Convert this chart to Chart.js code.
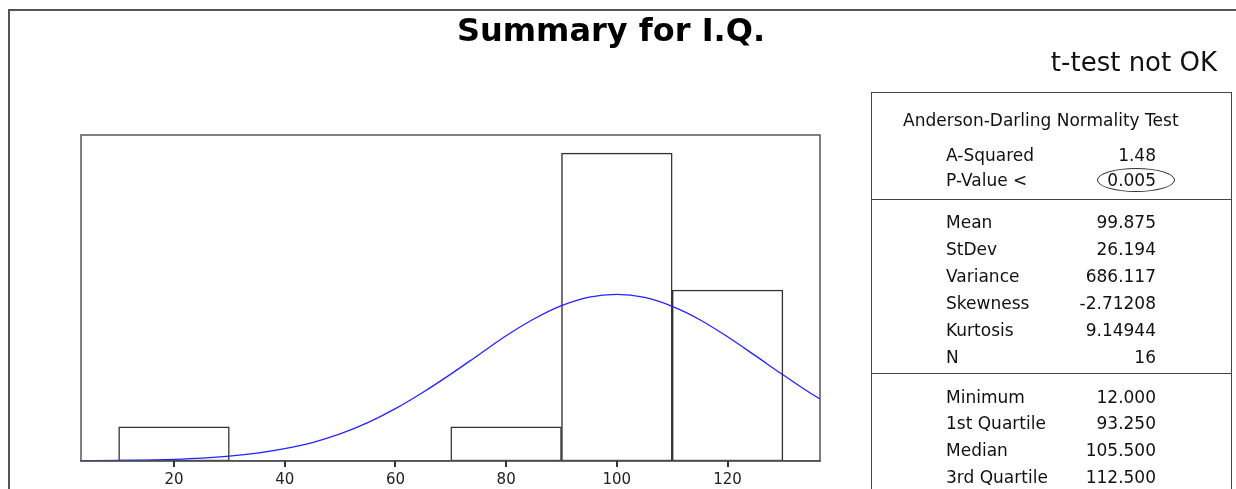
<!DOCTYPE html>
<html>
<head>
<meta charset="utf-8">
<script src="https://cdn.jsdelivr.net/npm/chart.js@4/dist/chart.umd.min.js"></script>
<style>
html,body{margin:0;padding:0;width:1236px;height:489px;overflow:hidden;background:#fff;}
body{position:relative;font-family:'DejaVu Sans',sans-serif;color:#111;}
#frame{position:absolute;left:8px;top:9px;width:1400px;height:700px;border:2px solid #555;box-sizing:border-box;}
#c{position:absolute;left:0;top:0;}
.t{position:absolute;white-space:nowrap;line-height:20px;height:20px;}
#title{position:absolute;left:0;width:1222px;text-align:center;top:10px;line-height:40px;font-weight:bold;font-size:32px;color:#000;}
#verdict{position:absolute;right:19px;top:46px;line-height:32px;font-size:26px;color:#111;}
#panel{position:absolute;left:871px;top:92px;width:361px;height:500px;border:1.5px solid #444;box-sizing:border-box;}
.div{position:absolute;left:871px;width:361px;height:0;border-top:1.5px solid #444;}
#ell{position:absolute;left:1097px;top:168px;width:78px;height:24px;border:1px solid #333;border-radius:50%;box-sizing:border-box;}
</style>
</head>
<body>
<div id="frame"></div>
<canvas id="c" width="1236" height="495"></canvas>
<div id="title">Summary for I.Q.</div>
<div id="verdict">t-test not OK</div>
<div id="panel"></div>
<div class="div" style="top:199px"></div>
<div class="div" style="top:373px"></div>
<div id="ell"></div>
<div id="texts"></div>
<script>
// ---- data ----
const binCenters = [20, 40, 60, 80, 100, 120];
const binCounts  = [1, 0, 0, 1, 9, 5];
const xTickValues = [20, 40, 60, 80, 100, 120];
const curveX = [3, 10, 15, 20, 25, 30, 35, 40, 45, 50, 55, 60, 65, 70, 75, 80, 85, 90, 95, 100, 105, 110, 115, 120, 125, 130, 135, 140];
const curveY = [0.005, 0.014, 0.026, 0.047, 0.082, 0.14, 0.23, 0.36, 0.54, 0.79, 1.12, 1.53, 2.01, 2.54, 3.10, 3.66, 4.15, 4.54, 4.79, 4.87, 4.78, 4.52, 4.13, 3.63, 3.08, 2.52, 1.98, 1.51];
const testHeader = "Anderson-Darling Normality Test";
const testLabels = ["A-Squared", "P-Value <"];
const testValues = ["1.48", "0.005"];
const statLabels = ["Mean", "StDev", "Variance", "Skewness", "Kurtosis", "N"];
const statValues = ["99.875", "26.194", "686.117", "-2.71208", "9.14944", "16"];
const quartLabels = ["Minimum", "1st Quartile", "Median", "3rd Quartile"];
const quartValues = ["12.000", "93.250", "105.500", "112.500"];

// ---- panel text ----
const host = document.getElementById('texts');
function addText(txt, y, opts) {
  const d = document.createElement('div');
  d.className = 't';
  d.textContent = txt;
  d.style.top = (y - 10) + 'px';
  d.style.fontSize = '17px';
  if (opts.left !== undefined) d.style.left = opts.left + 'px';
  if (opts.right !== undefined) { d.style.right = opts.right + 'px'; d.style.textAlign = 'right'; }
  host.appendChild(d);
}
addText(testHeader, 120, {left: 903});
testLabels.forEach((l, i) => { addText(l, 154.5 + i * 25, {left: 946}); addText(testValues[i], 154.5 + i * 25, {right: 80}); });
statLabels.forEach((l, i) => { addText(l, 221.5 + i * 27, {left: 946}); addText(statValues[i], 221.5 + i * 27, {right: 80}); });
quartLabels.forEach((l, i) => { addText(l, 396.7 + i * 26.7, {left: 946}); addText(quartValues[i], 396.7 + i * 26.7, {right: 80}); });

// ---- chart ----
const plotFrame = {
  id: 'plotFrame',
  afterDraw(chart) {
    const a = chart.chartArea, ctx = chart.ctx, xs = chart.scales.x;
    ctx.save();
    ctx.strokeStyle = '#555';
    ctx.lineWidth = 1.5;
    ctx.strokeRect(a.left, a.top, a.right - a.left, a.bottom - a.top);
    ctx.strokeStyle = '#333';
    ctx.lineWidth = 2;
    for (const v of xTickValues) {
      const px = Math.round(xs.getPixelForValue(v));
      ctx.beginPath();
      ctx.moveTo(px, a.bottom);
      ctx.lineTo(px, a.bottom + 6);
      ctx.stroke();
    }
    ctx.restore();
  }
};

new Chart(document.getElementById('c'), {
  data: {
    datasets: [
      {
        type: 'line',
        data: curveX.map((x, i) => ({x: x, y: curveY[i]})),
        borderColor: 'rgb(35,35,255)',
        borderWidth: 1.3,
        pointRadius: 0,
        cubicInterpolationMode: 'monotone',
        fill: false
      },
      {
        type: 'bar',
        data: binCenters.map((x, i) => ({x: x, y: binCounts[i]})),
        backgroundColor: '#ffffff',
        borderColor: '#333',
        borderWidth: 1.5,
        borderSkipped: false,
        categoryPercentage: 1,
        barPercentage: 1
      }
    ]
  },
  options: {
    responsive: false,
    animation: false,
    layout: {padding: {left: 81, right: 416, top: 135, bottom: 0}},
    plugins: {legend: {display: false}, tooltip: {enabled: false}, title: {display: false}},
    scales: {
      x: {
        type: 'linear',
        min: 3.2,
        max: 136.7,
        offset: false,
        afterBuildTicks(scale) { scale.ticks = xTickValues.map(v => ({value: v})); },
        grid: {display: true, offset: false, drawOnChartArea: false, drawTicks: true, tickLength: 5, color: '#333', lineWidth: 2},
        border: {display: true, color: '#444', width: 1.5},
        ticks: {autoSkip: false, maxRotation: 0, padding: 7, color: '#222', font: {family: "'DejaVu Sans', sans-serif", size: 15, lineHeight: 1.0}}
      },
      y: {
        type: 'linear',
        min: 0,
        max: 9.53,
        display: false
      }
    }
  },
  plugins: [plotFrame]
});
</script>
</body>
</html>
